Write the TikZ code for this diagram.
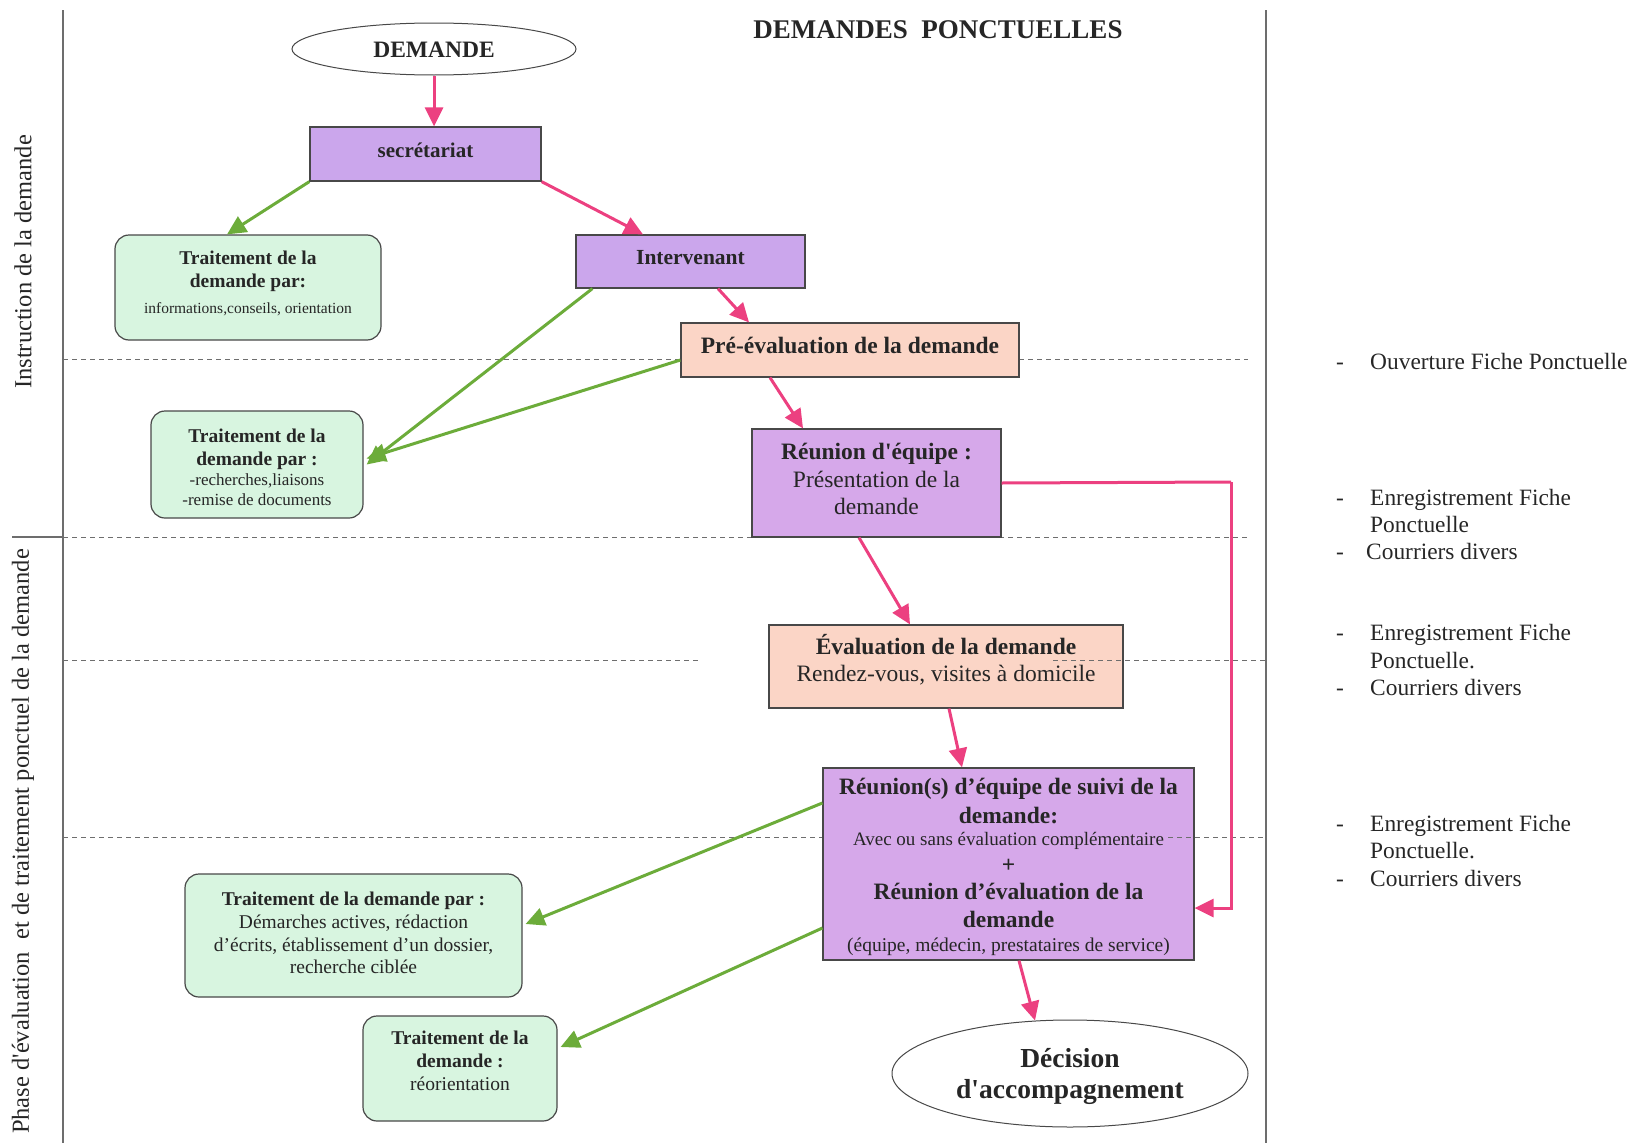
\documentclass[tikz,border=0pt]{standalone}
\usepackage{fontspec}
\setmainfont{Liberation Serif}
\usetikzlibrary{arrows.meta,shapes.geometric}
\definecolor{purpA}{RGB}{203,166,236}
\definecolor{purpB}{RGB}{214,168,234}
\definecolor{peach}{RGB}{251,213,198}
\definecolor{greenfill}{RGB}{216,245,224}
\definecolor{pinkc}{RGB}{236,64,128}
\definecolor{greenc}{RGB}{108,172,58}
\definecolor{border}{RGB}{72,72,72}
\definecolor{txt}{RGB}{38,38,38}
\definecolor{dashc}{RGB}{110,110,110}
\newcommand\fsz[1]{\fontsize{#1}{#1}\selectfont}
\newcommand\sq{\textquotesingle}
\begin{document}
\begin{tikzpicture}[x=1pt,y=-1pt,
  boxbase/.style={draw=border, line width=1.2pt, inner sep=0pt},
  purpbox/.style={boxbase, fill=purpA},
  reubox/.style={boxbase, fill=purpB},
  peachbox/.style={boxbase, fill=peach},
  greenbox/.style={boxbase, fill=greenfill, rounded corners=14pt},
  ovalbox/.style={boxbase, ellipse, fill=white, line width=1pt},
  tl/.style={anchor=base, inner sep=0pt, text=txt},
  side/.style={rotate=90, inner sep=0pt, text=txt, font=\fsz{24.5}},
  pinkarrow/.style={draw=pinkc, line width=3pt, -{Triangle[length=19pt,width=18pt]}},
  greenarrow/.style={draw=greenc, line width=3pt, -{Triangle[length=19pt,width=18pt]}},
  pinkline/.style={draw=pinkc, line width=3pt},
  dashline/.style={draw=dashc, line width=0.9pt, dash pattern=on 5pt off 4pt},
  frameline/.style={draw=border!80, line width=1.4pt}]
\useasboundingbox (0,0) rectangle (1631,1143);
\clip (0,0) rectangle (1631,1143);

% frame
\coordinate (fl1) at (63,10);  \coordinate (fl2) at (63,1143);
\coordinate (fr1) at (1266,10); \coordinate (fr2) at (1266,1143);
\coordinate (fs1) at (12,537); \coordinate (fs2) at (63,537);
\draw[frameline] (fl1) -- (fl2);
\draw[frameline] (fr1) -- (fr2);
\draw[frameline] (fs1) -- (fs2);

% dashed separators (behind boxes)
\coordinate (d1a) at (63,359); \coordinate (d1b) at (681,359);
\coordinate (d1c) at (1019,359); \coordinate (d1d) at (1248,359);
\coordinate (d2a) at (63,537); \coordinate (d2b) at (1248,537);
\coordinate (d3a) at (63,660); \coordinate (d3b) at (700,660);
\coordinate (d4a) at (63,837); \coordinate (d4b) at (823,837);
\draw[dashline] (d1a) -- (d1b);
\draw[dashline] (d1c) -- (d1d);
\draw[dashline] (d2a) -- (d2b);
\draw[dashline] (d3a) -- (d3b);
\draw[dashline] (d4a) -- (d4b);

% boxes
\node[ovalbox, minimum width=284pt, minimum height=52pt] (dem) at (434,49) {};
\node[purpbox, minimum width=231pt, minimum height=54pt] (sec) at (425.5,154) {};
\node[greenbox, minimum width=266pt, minimum height=105pt] (t1) at (248,287.5) {};
\node[purpbox, minimum width=229pt, minimum height=53pt] (intv) at (690.5,261.5) {};
\node[peachbox, minimum width=338pt, minimum height=54pt] (pre) at (850,350) {};
\node[greenbox, minimum width=212pt, minimum height=107pt] (t2) at (257,464.5) {};
\node[reubox, minimum width=249pt, minimum height=108pt] (reu) at (876.5,483) {};
\node[peachbox, minimum width=354pt, minimum height=83pt] (eval) at (946,666.5) {};
\node[reubox, minimum width=371pt, minimum height=192pt] (reun) at (1008.5,864) {};
\node[ovalbox, minimum width=356pt, minimum height=107pt] (dec) at (1070,1073.5) {};
\node[greenbox, minimum width=337pt, minimum height=123pt] (t3) at (353.5,935.5) {};
\node[greenbox, minimum width=194pt, minimum height=105pt] (t4) at (460,1068.5) {};

% dashed segments drawn over boxes
\coordinate (d3c) at (1053,660); \coordinate (d3d) at (1266,660);
\coordinate (d4c) at (1168,837); \coordinate (d4d) at (1266,837);
\draw[dashline] (d3c) -- (d3d);
\draw[dashline] (d4c) -- (d4d);

% connectors
\draw[pinkarrow] (dem.south) -- (dem.south |- sec.north);
\draw[greenarrow] (sec.south west) -- ([xshift=-21pt]t1.north);
\draw[pinkarrow] (sec.south east) -- ([xshift=-47.5pt]intv.north);
\draw[pinkarrow] ([xshift=27.5pt]intv.south) -- ([xshift=-101pt]pre.north);
\draw[greenarrow] ([xshift=17pt]intv.south west) -- ([xshift=3pt]t2.east);
\draw[greenarrow] ([yshift=-10pt]pre.west) -- ([xshift=3pt,yshift=6pt]t2.east);
\draw[pinkarrow] ([xshift=-80pt]pre.south) -- ([xshift=-73.5pt]reu.north);
\coordinate (bend) at (1231,482);
\draw[pinkline] (reu.east) -- (bend);
\draw[pinkarrow] (bend) |- ([yshift=-44pt]reun.east);
\draw[pinkarrow] ([xshift=-17.5pt]reu.south) -- ([xshift=-36pt]eval.north);
\draw[pinkarrow] ([xshift=3pt]eval.south) -- ([xshift=-46.5pt]reun.north);
\draw[greenarrow] ([yshift=61pt]reun.west) -- ([xshift=3pt,yshift=11.5pt]t3.east);
\draw[greenarrow] ([yshift=-64pt]reun.west) -- ([xshift=3pt,yshift=21.5pt]t4.east);
\draw[pinkarrow] ([xshift=10.5pt]reun.south) -- ([xshift=-35pt,yshift=-1pt]dec.north);

% title
\node[tl, font=\bfseries\fsz{27}] (title) at (938,38) {DEMANDES\hspace{0.5em}PONCTUELLES};

% texts in boxes
\node[tl, font=\bfseries\fsz{23.5}] (demt) at (434,57) {DEMANDE};
\node[tl, font=\bfseries\fsz{21}] (sect) at (425.5,157) {secrétariat};
\node[tl, font=\bfseries\fsz{21.5}] (intvt) at (690.5,264) {Intervenant};
\node[tl, font=\bfseries\fsz{23.5}] (pret) at (850,353) {Pré-évaluation de la demande};

\node[tl, font=\bfseries\fsz{19.5}] (t1a) at (248,264) {Traitement de la};
\node[tl, font=\bfseries\fsz{19.5}] (t1b) at (248,287) {demande par:};
\node[tl, font=\fsz{15.5}] (t1c) at (248,313) {informations,conseils, orientation};

\node[tl, font=\bfseries\fsz{19.5}] (t2a) at (257,442) {Traitement de la};
\node[tl, font=\bfseries\fsz{19.5}] (t2b) at (257,465) {demande par :};
\node[tl, font=\fsz{17}] (t2c) at (257,485) {-recherches,liaisons};
\node[tl, font=\fsz{17}] (t2d) at (257,505) {-remise de documents};

\node[tl, font=\bfseries\fsz{23.5}] (reua) at (876.5,459) {Réunion d\sq équipe :};
\node[tl, font=\fsz{23.5}] (reub) at (876.5,487) {Présentation de la};
\node[tl, font=\fsz{23.5}] (reuc) at (876.5,514) {demande};

\node[tl, font=\bfseries\fsz{23.5}] (evala) at (946,654) {Évaluation de la demande};
\node[tl, font=\fsz{23.5}] (evalb) at (946,681) {Rendez-vous, visites à domicile};

\node[tl, font=\bfseries\fsz{23.5}] (runa) at (1008.5,794) {Réunion(s) d’équipe de suivi de la};
\node[tl, font=\bfseries\fsz{23.5}] (runb) at (1008.5,823) {demande:};
\node[tl, font=\fsz{19}] (runc) at (1008.5,845) {Avec ou sans évaluation complémentaire};
\node[tl, font=\bfseries\fsz{23.5}] (rund) at (1008.5,872) {+};
\node[tl, font=\bfseries\fsz{23.5}] (rune) at (1008.5,899) {Réunion d’évaluation de la};
\node[tl, font=\bfseries\fsz{23.5}] (runf) at (1008.5,927) {demande};
\node[tl, font=\fsz{19.5}] (rung) at (1008.5,951) {(équipe, médecin, prestataires de service)};

\node[tl, font=\bfseries\fsz{27.5}] (deca) at (1070,1067) {Décision};
\node[tl, font=\bfseries\fsz{27.5}] (decb) at (1070,1098) {d\sq accompagnement};

\node[tl, font=\bfseries\fsz{19.5}] (t3a) at (353.5,905) {Traitement de la demande par :};
\node[tl, font=\fsz{19.5}] (t3b) at (353.5,928) {Démarches actives, rédaction};
\node[tl, font=\fsz{19.5}] (t3c) at (353.5,951) {d’écrits, établissement d’un dossier,};
\node[tl, font=\fsz{19.5}] (t3d) at (353.5,973) {recherche ciblée};

\node[tl, font=\bfseries\fsz{19.5}] (t4a) at (460,1044) {Traitement de la};
\node[tl, font=\bfseries\fsz{19.5}] (t4b) at (460,1067) {demande :};
\node[tl, font=\fsz{19.5}] (t4c) at (460,1090) {réorientation};

% side labels
\node[side, anchor=center] (lab1) at (23,262) {Instruction de la demande};
\node[side, anchor=east] (lab2) at (23,549) {Phase d\sq évaluation\hspace{0.5em}et de traitement ponctuel de la demande};

% right column notes
\tikzset{note/.style={anchor=base west, inner sep=0pt, text=txt, font=\fsz{23.4}}}
\node[note] (n1d) at (1336,369) {-};
\node[note] (n1)  at (1370,369) {Ouverture Fiche Ponctuelle};
\node[note] (n2d) at (1336,505) {-};
\node[note] (n2)  at (1370,505) {Enregistrement Fiche};
\node[note] (n2b) at (1370,532) {Ponctuelle};
\node[note] (n3d) at (1336,559) {-};
\node[note] (n3)  at (1366,559) {Courriers divers};
\node[note] (n4d) at (1336,640) {-};
\node[note] (n4)  at (1370,640) {Enregistrement Fiche};
\node[note] (n4b) at (1370,668) {Ponctuelle.};
\node[note] (n5d) at (1336,695) {-};
\node[note] (n5)  at (1370,695) {Courriers divers};
\node[note] (n6d) at (1336,831) {-};
\node[note] (n6)  at (1370,831) {Enregistrement Fiche};
\node[note] (n6b) at (1370,858) {Ponctuelle.};
\node[note] (n7d) at (1336,886) {-};
\node[note] (n7)  at (1370,886) {Courriers divers};
\end{tikzpicture}
\end{document}
